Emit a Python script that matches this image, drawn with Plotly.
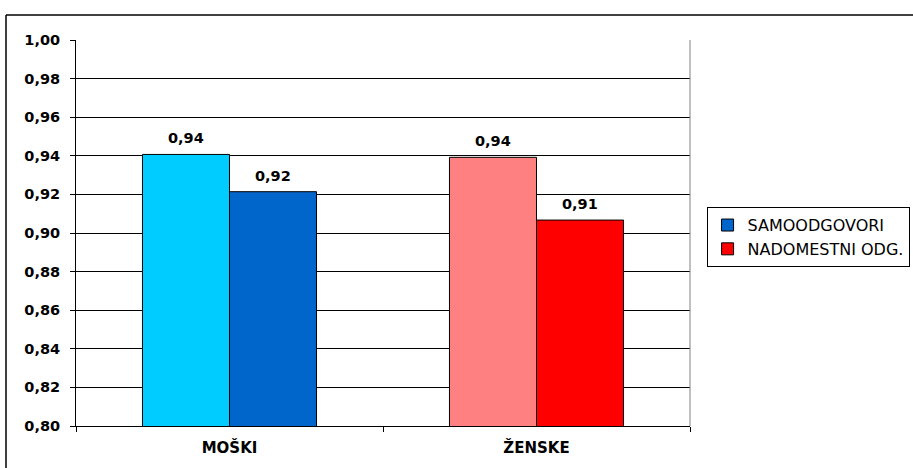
import plotly.graph_objects as go

# Categories and series values
categories = ["MOŠKI", "ŽENSKE"]
series_names = ["SAMOODGOVORI", "NADOMESTNI ODG."]
samoodgovori = [0.9407, 0.9392]
nadomestni = [0.9214, 0.9067]

# Bar fills per point, and the colours used for the legend swatches
samo_colors = ["#00CCFF", "#FF8080"]
nado_colors = ["#0066CC", "#FF0000"]
legend_colors = ["#0066CC", "#FF0000"]

num_font = dict(family="DejaVu Sans", size=14.5, color="black")
BARGAP = 0.433
PLOT_W = 913 - 76 - 223
bar_px = PLOT_W / len(categories) * (1 - BARGAP) / 2

fig = go.Figure()

for name, vals, cols, grp in [
    (series_names[0], samoodgovori, samo_colors, "a"),
    (series_names[1], nadomestni, nado_colors, "b"),
]:
    fig.add_trace(go.Bar(
        x=categories, y=vals, name=name, offsetgroup=grp,
        marker=dict(color=cols, line=dict(color="black", width=1)),
        showlegend=False, hoverinfo="x+y",
    ))

# Legend entries
for name, col, grp in zip(series_names, legend_colors, ["a", "b"]):
    fig.add_trace(go.Bar(
        x=[None], y=[None], name=name, offsetgroup=grp,
        marker=dict(color=col, line=dict(color="black", width=1)),
    ))

# Value labels above each bar
annotations = []
for vals, shift in [(samoodgovori, -bar_px / 2), (nadomestni, bar_px / 2)]:
    for cat, v in zip(categories, vals):
        annotations.append(dict(
            x=cat, y=v, xref="x", yref="y", xshift=shift, yshift=16,
            text="<b>" + f"{v:.2f}".replace(".", ",") + "</b>",
            showarrow=False, xanchor="center", yanchor="middle",
            font=num_font,
        ))

fig.update_layout(
    width=913, height=468,
    margin=dict(l=76, r=223, t=40, b=42, autoexpand=False),
    paper_bgcolor="white", plot_bgcolor="white",
    separators=",.",
    barmode="group", bargap=BARGAP, bargroupgap=0,
    font=dict(family="DejaVu Sans", color="black"),
    showlegend=True,
    legend=dict(
        x=1.027, y=0.567, xanchor="left", yanchor="top",
        bordercolor="black", borderwidth=1,
        font=dict(family="DejaVu Sans", size=16, color="black"),
        tracegroupgap=0, itemwidth=30,
    ),
    xaxis=dict(
        type="category", tickson="boundaries", ticks="outside", ticklen=5,
        tickcolor="black", showline=True, linecolor="black", linewidth=1,
        showgrid=False, ticklabelstandoff=8,
        tickfont=dict(family="DejaVu Sans", size=15, color="black"),
        tickprefix="<b>", ticksuffix="</b>",
    ),
    yaxis=dict(
        range=[0.8, 1.0], dtick=0.02, tickformat=".2f",
        ticks="outside", ticklen=5, tickcolor="black",
        showline=True, linecolor="black", linewidth=1,
        showgrid=True, gridcolor="black", gridwidth=1,
        tickfont=num_font, tickprefix="<b>", ticksuffix="</b>",
        ticklabelstandoff=7, zeroline=False,
    ),
    annotations=annotations,
    shapes=[
        # right edge of the plot area
        dict(type="line", xref="paper", yref="paper", x0=1, x1=1, y0=0, y1=1,
             line=dict(color="#808080", width=1)),
        # outer chart frame (top and left edges)
        dict(type="line", xref="paper", yref="paper", x0=-0.114, x1=1.5,
             y0=1.0648, y1=1.0648, line=dict(color="black", width=1.5)),
        dict(type="line", xref="paper", yref="paper", x0=-0.114, x1=-0.114,
             y0=-0.2, y1=1.0648, line=dict(color="black", width=1.5)),
    ],
)

fig.write_html("out.html")
